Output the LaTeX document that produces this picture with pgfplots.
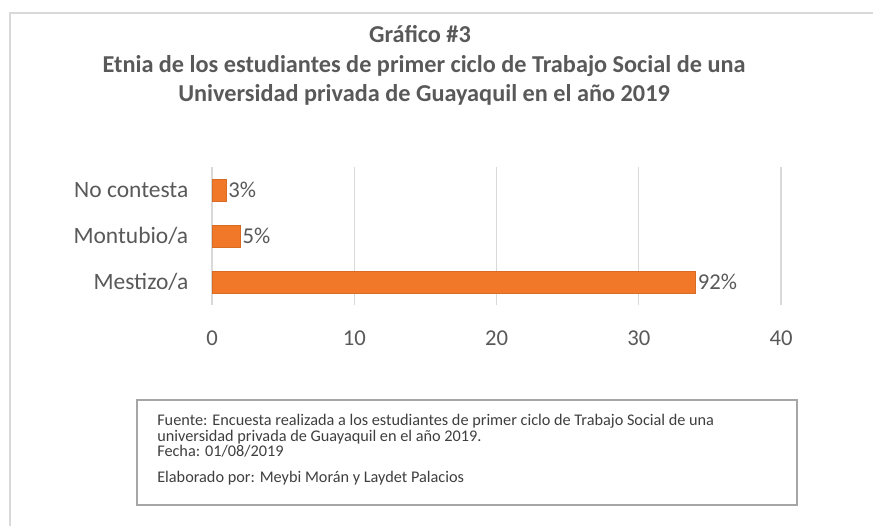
\documentclass[border=0pt]{standalone}
\usepackage{pgfplots}
\pgfplotsset{compat=1.18}
\usepackage{fontspec}
\setmainfont{Carlito}
\definecolor{barorange}{HTML}{F07828}
\definecolor{txtgrey}{HTML}{595959}
\definecolor{gridgrey}{HTML}{D9D9D9}
\begin{document}
\begin{tikzpicture}[x=0.75pt,y=0.75pt]
\useasboundingbox (0,0) rectangle (873,526);
\draw[gridgrey, line width=1pt] (10,0) -- (10,513) -- (873,513);
\begin{scope}[every node/.style={font=\bfseries\fontsize{18.2}{22}\selectfont, text=txtgrey, anchor=base, inner sep=0pt}]
\node at (420,483) {Gráfico \#3};
\node at (424,454) {Etnia de los estudiantes de primer ciclo de Trabajo Social de una};
\node at (424,425) {Universidad privada de Guayaquil en el año 2019};
\end{scope}
\begin{axis}[
  at={(159pt,165.75pt)}, anchor=south west,
  scale only axis, width=426.75pt, height=103.5pt,
  xbar, bar width=16.5pt,
  xmin=0, xmax=40, ymin=-0.5, ymax=2.5,
  xtick={0,10,20,30,40},
  ytick={0,1,2}, yticklabels={Mestizo/a,Montubio/a,No contesta},
  xmajorgrids, grid style={gridgrey, line width=0.8pt},
  axis line style={draw=none}, major tick style={draw=none},
  /pgf/number format/assume math mode=true,
  ticklabel style={text=txtgrey},
  xticklabel style={anchor=center, yshift=-25pt, font=\fontsize{17}{20}\selectfont},
  yticklabel style={xshift=-10pt, font=\fontsize{17.6}{20}\selectfont},
  nodes near coords, point meta=explicit symbolic,
  every node near coord/.append style={text=txtgrey, font=\fontsize{17}{20}\selectfont, inner sep=1.5pt, anchor=west},
]
\addplot[fill=barorange, draw=barorange!90!black] table[x=x, y=y, meta=lab, row sep=\\] {
x y lab\\
34 0 92\%\\
2 1 5\%\\
1 2 3\%\\
};
\end{axis}
\draw[gray!70, line width=0.9pt] (137,126) rectangle (797,21);
\begin{scope}[every node/.style={anchor=base west, text=txtgrey!70!black, font=\fontsize{12.2}{12}\selectfont, inner sep=0pt}]
\node at (157,101) {Fuente: Encuesta realizada a los estudiantes de primer ciclo de Trabajo Social de una};
\node at (157,85) {universidad privada de Guayaquil en el año 2019.};
\node at (157,70) {Fecha: 01/08/2019};
\node at (157,44) {Elaborado por: Meybi Morán y Laydet Palacios};
\end{scope}
\end{tikzpicture}
\end{document}
